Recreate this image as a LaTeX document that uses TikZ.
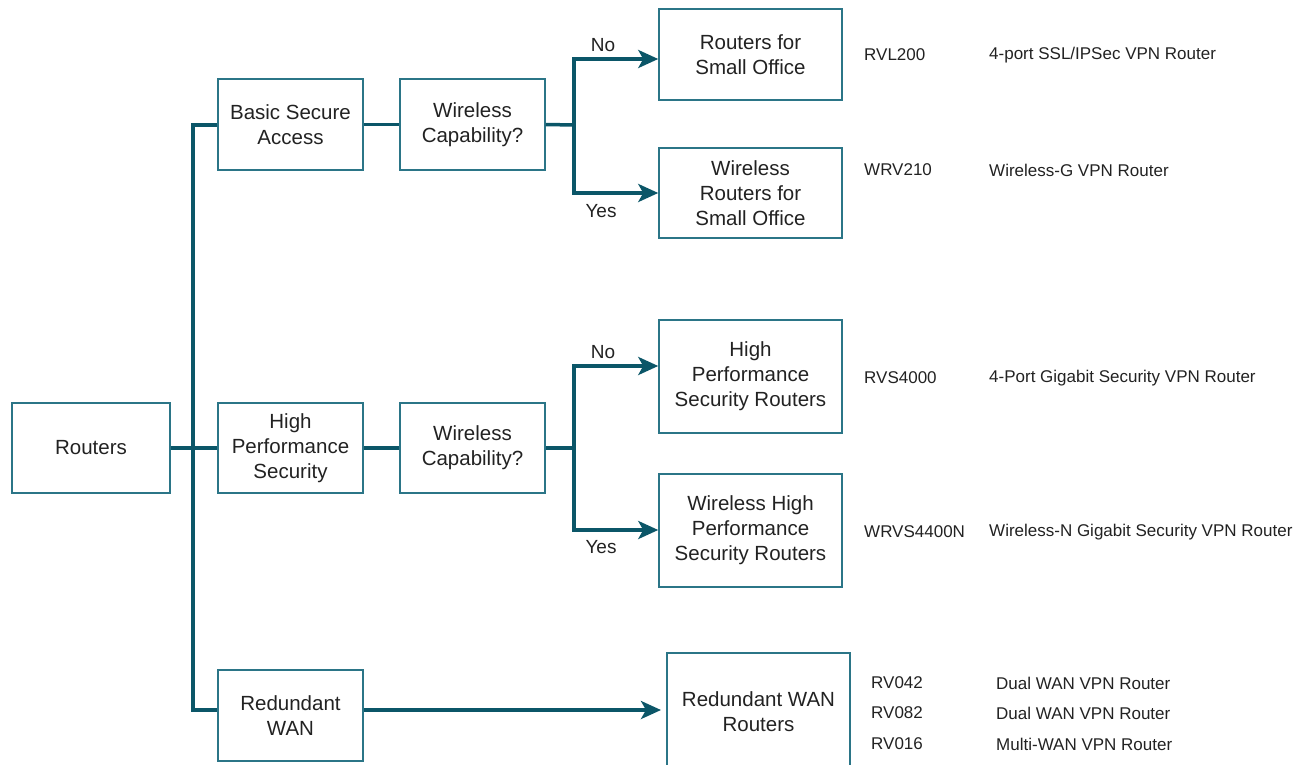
\documentclass[tikz,border=0pt]{standalone}
\usepackage{fontspec}
\setmainfont{Liberation Sans}
\usetikzlibrary{arrows.meta}
\definecolor{linec}{HTML}{0B5668}
\definecolor{boxc}{HTML}{2B7587}
\definecolor{txtc}{HTML}{222222}
\tikzset{
  box/.style={draw=boxc, line width=1.5pt, align=center, inner sep=0pt, text=txtc,
    font=\fontsize{20.5}{25}\selectfont},
  conn/.style={draw=linec, line width=3.5pt, line join=miter},
  tip/.tip={Stealth[length=20pt,width=18pt,inset=5pt]},
  arr/.style={conn, -tip},
  darr/.style={conn, tip-tip},
  yn/.style={text=txtc, font=\fontsize{19}{23}\selectfont, inner sep=0pt},
  info/.style={anchor=west, text=txtc, font=\fontsize{17}{20}\selectfont, inner sep=0pt},
}
\begin{document}
\begin{tikzpicture}[x=1pt,y=-1pt]
\useasboundingbox (0,0) rectangle (1312,765);
% nodes
\node[box, minimum width=158pt, minimum height=90pt] (routers) at (91,448) {Routers};
\node[box, minimum width=145pt, minimum height=91pt] (bsa) at (290.5,124.5) {Basic Secure\\Access};
\node[box, minimum width=145pt, minimum height=91pt] (wc1) at (472.5,124.5) {Wireless\\Capability?};
\node[box, minimum width=183pt, minimum height=91pt] (rso) at (750.5,54.5) {Routers for\\Small Office};
\node[box, minimum width=183pt, minimum height=90pt] (wrso) at (750.5,193) {Wireless\\Routers for\\Small Office};
\node[box, minimum width=145pt, minimum height=90pt] (hps) at (290.5,448) {High\\Performance\\Security};
\node[box, minimum width=145pt, minimum height=90pt] (wc2) at (472.5,448) {Wireless\\Capability?};
\node[box, minimum width=183pt, minimum height=113pt] (hpsr) at (750.5,376.5) {High\\Performance\\Security Routers};
\node[box, minimum width=183pt, minimum height=113pt] (whpsr) at (750.5,530.5) {Wireless High\\Performance\\Security Routers};
\node[box, minimum width=145pt, minimum height=91pt] (rw) at (290.5,715.5) {Redundant\\WAN};
\node[box, minimum width=183pt, minimum height=118pt] (rwr) at (758.5,712) {Redundant WAN\\Routers};
% junction coordinates
\coordinate (tTop) at (193,125);
\coordinate (tMid) at (193,448);
\coordinate (tBot) at (193,710);
\coordinate (b1) at (574,125);
\coordinate (b1n) at (574,59);
\coordinate (b1y) at (574,193);
\coordinate (b2) at (574,448);
\coordinate (b2n) at (574,366);
\coordinate (b2y) at (574,530);
\coordinate (rwend) at (661,710);
% connectors
\draw[conn] (tTop -| bsa.west) -- (tTop) -- (tBot) -- (tBot -| rw.west);
\draw[conn] (routers.east) -- (hps.west);
\draw[conn] (bsa.east) -- (wc1.west);
\draw[conn] (hps.east) -- (wc2.west);
\draw[conn] (wc1.east) -- (b1);
\draw[conn] (wc2.east) -- (b2);
\draw[darr] (b1n -| rso.west) -- (b1n) -- (b1y) -- (b1y -| wrso.west);
\draw[darr] (b2n -| hpsr.west) -- (b2n) -- (b2y) -- (b2y -| whpsr.west);
\draw[arr] (tBot -| rw.east) -- (rwend);
% yes/no labels
\node[yn] (no1) at (603,45) {No};
\node[yn] (yes1) at (601,211) {Yes};
\node[yn] (no2) at (603,352) {No};
\node[yn] (yes2) at (601,547) {Yes};
% info texts
\node[info] (m1) at (864,55) {RVL200};
\node[info] (d1) at (989,55) {4-port SSL/IPSec VPN Router};
\node[info] (m2) at (864,170) {WRV210};
\node[info] (d2) at (989,170) {Wireless-G VPN Router};
\node[info] (m3) at (864,378) {RVS4000};
\node[info] (d3) at (989,378) {4-Port Gigabit Security VPN Router};
\node[info] (m4) at (864,532) {WRVS4400N};
\node[info] (d4) at (989,532) {Wireless-N Gigabit Security VPN Router};
\node[info] (m5) at (871,683) {RV042};
\node[info] (d5) at (996,683) {Dual WAN VPN Router};
\node[info] (m6) at (871,713) {RV082};
\node[info] (d6) at (996,713) {Dual WAN VPN Router};
\node[info] (m7) at (871,744) {RV016};
\node[info] (d7) at (996,744) {Multi-WAN VPN Router};
\end{tikzpicture}
\end{document}
